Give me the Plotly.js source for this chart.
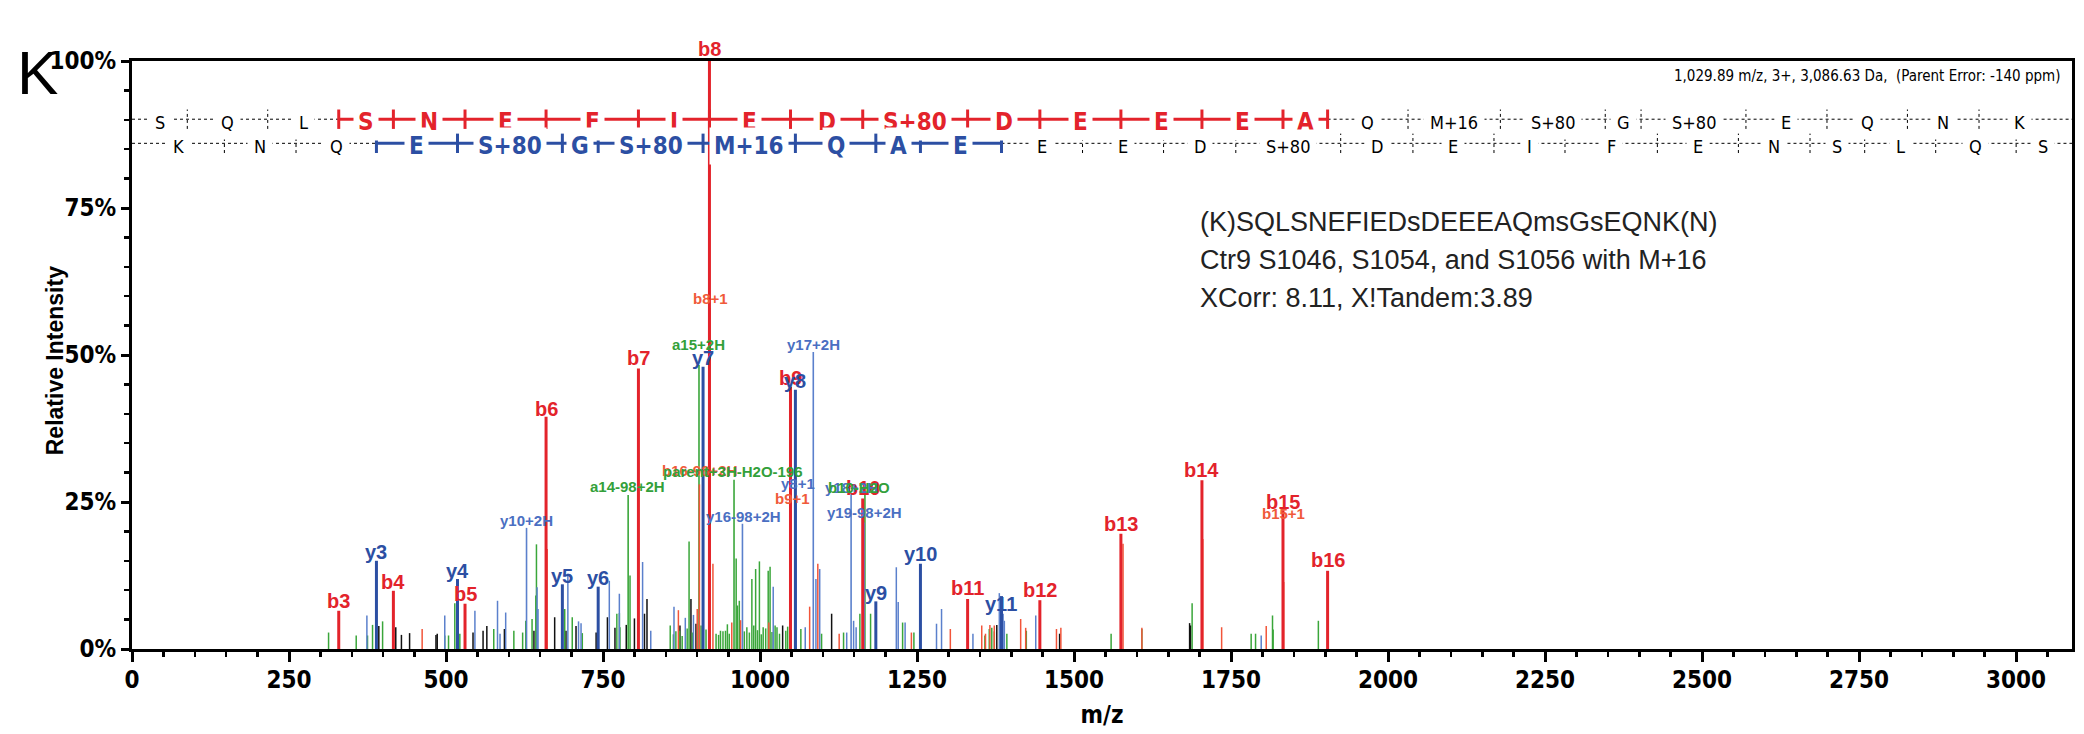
<!DOCTYPE html>
<html><head><meta charset="utf-8">
<script src="https://cdn.plot.ly/plotly-3.0.1.min.js"></script>
<style>html,body{margin:0;padding:0;background:#fff}#chart{width:2084px;height:734px}</style>
</head><body><div id="chart"></div>
<script>
// ---------------- DATA ----------------
// labelled b ions (thick red)
const bMainMz  = [329.18, 416.21, 530.26, 659.30, 806.37, 919.45, 1048.50, 1163.52, 1330.52, 1445.55, 1574.59, 1703.63, 1832.68, 1903.71];
const bMainInt = [6.5, 9.9, 7.7, 39.5, 47.7, 100, 44.6, 25.6, 8.5, 8.3, 19.6, 28.7, 23.6, 13.3];
const bMainLab = ['b3','b4','b5','b6','b7','b8','b9','b10','b11','b12','b13','b14','b15','b16'];
const bMainLabY = [8.2, 11.4, 9.4, 40.9, 49.5, 102.1, 46.1, 27.3, 10.4, 10.0, 21.3, 30.5, 25.0, 15.1];
// labelled y ions (thick blue)
const yMainMz  = [389.21, 518.26, 685.26, 742.28, 909.28, 1056.31, 1184.37, 1255.41, 1384.45];
const yMainInt = [15.0, 11.9, 11.0, 10.6, 48.0, 44.1, 8.1, 14.5, 9.0];
const yMainLab = ['y3','y4','y5','y6','y7','y8','y9','y10','y11'];
const yMainLabY = [16.5, 13.3, 12.4, 12.1, 49.5, 45.6, 9.5, 16.2, 7.7];
// other labelled ions (thin)
const minorLab  = ['y10+2H','a14-98+2H','a15+2H','b16-98+2H','b8+1','parent+3H-H2O-196','y16-98+2H','b9+1','y8+1','y17+2H','y18+2H','b10-H2O','y19-98+2H','b15+1'];
const minorType = ['y','a','a','b','b','a','y','b','y','y','y','a','y','b'];
const minorMz   = [628.2, 790.0, 902.8, 903.4, 920.45, 958.6, 972.0, 1049.5, 1057.3, 1084.8, 1145.0, 1167.0, 1165.9, 1833.7];
const minorInt  = [20.6, 26.2, 48.3, 28.0, 58.0, 28.8, 21.3, 23.5, 26.0, 50.5, 26.4, 27.5, 21.5, 11.4];
const minorLabX = [628.2, 789.5, 902.8, 904.0, 920.5, 957.0, 973.0, 1051.0, 1060.0, 1085.5, 1145.0, 1157.0, 1166.0, 1833.7];
const minorLabY = [21.9, 27.6, 51.8, 30.3, 59.6, 30.2, 22.6, 25.6, 28.1, 51.8, 27.4, 27.4, 23.2, 23.1];
// unlabelled peaks
const redThinMz  = [462, 661, 870, 900, 925, 955, 969, 1014, 1079, 1092, 1126, 1241, 1303, 1353, 1359, 1366, 1373, 1415, 1423, 1472, 1479, 1578, 1608, 1705, 1735, 1806];
const redThinInt = [3.4, 17.0, 6.6, 6.8, 14.5, 4.5, 4.9, 4.5, 7.2, 14.5, 2.6, 2.8, 3.4, 4.0, 2.6, 4.1, 4.0, 5.1, 3.6, 3.4, 3.6, 17.9, 3.6, 18.7, 3.7, 3.9];
const blueThinMz  = [374, 498, 546, 582, 586, 595, 645, 646.5, 694, 711, 715, 760, 776, 813, 826, 863, 881, 894, 1021, 1072, 1089, 1095, 1138, 1149, 1153, 1217, 1220, 1231, 1281, 1289, 1339, 1381, 1387, 1389, 1439, 1798];
const blueThinInt = [5.7, 5.7, 6.5, 8.2, 2.6, 6.2, 10.5, 6.8, 12.8, 4.7, 4.4, 11.6, 9.4, 14.8, 3.1, 7.2, 5.3, 5.8, 10.6, 3.7, 11.9, 13.6, 2.8, 4.8, 3.7, 13.9, 8.0, 4.5, 4.3, 6.8, 2.6, 9.5, 6.0, 4.8, 5.7, 2.3];
const greenThinMz  = [313, 357, 375, 383, 399, 498, 504, 514, 522, 576, 608, 622, 627, 637, 643, 644, 689, 701, 717, 772, 776, 777, 793, 857, 862, 866, 872, 876, 884, 887, 892, 906, 914, 930, 934, 937, 941, 945, 948, 951, 962, 964, 967, 975, 979, 983, 987, 990, 993, 996, 999, 1002, 1005, 1009, 1013, 1016, 1019, 1024, 1027, 1031, 1041, 1044, 1065, 1098, 1133, 1159, 1176, 1227, 1245, 1255, 1358, 1365, 1369, 1373, 1393, 1424, 1559, 1608, 1688, 1782, 1789, 1816, 1817, 1889];
const greenThinInt = [2.8, 2.3, 2.3, 4.1, 4.7, 2.3, 2.3, 7.8, 2.6, 3.4, 3.1, 2.8, 4.8, 5.1, 9.1, 17.8, 6.8, 5.4, 2.7, 6.0, 6.1, 3.7, 12.5, 4.0, 2.5, 3.0, 3.1, 2.2, 3.5, 18.3, 2.8, 4.0, 3.3, 2.6, 2.4, 3.1, 3.0, 3.1, 4.2, 2.6, 15.4, 7.4, 8.2, 3.0, 3.7, 2.8, 11.9, 4.0, 13.6, 3.2, 14.9, 2.5, 3.7, 3.5, 13.3, 14.0, 2.9, 4.0, 3.7, 2.6, 3.1, 3.8, 3.4, 2.6, 2.8, 6.0, 6.0, 4.5, 2.8, 11.9, 2.3, 3.4, 3.6, 3.0, 2.6, 3.1, 2.6, 3.4, 7.8, 2.6, 2.6, 5.7, 3.3, 4.8];
const blackThinMz  = [393, 420, 429, 442, 484, 486, 543, 559, 565, 593, 640, 673, 691, 707, 739, 757, 769, 787, 800, 816, 820, 872.5, 890, 898, 1036, 1114, 1377, 1477, 1684, 1685.5];
const blackThinInt = [3.9, 3.7, 2.4, 2.7, 2.4, 2.6, 2.8, 3.1, 3.9, 3.4, 3.1, 5.4, 3.1, 3.9, 2.8, 5.4, 3.6, 4.1, 5.2, 6.0, 8.5, 4.0, 8.5, 4.3, 4.0, 6.0, 4.1, 2.6, 4.4, 4.0];
// sequence coverage rows: theoretical b / y ladders (b1..b25, y1..y25)
const bLadder = [88.04, 216.10, 329.18, 416.21, 530.26, 659.30, 806.37, 919.45, 1048.50, 1163.52, 1330.52, 1445.55, 1574.59, 1703.63, 1832.68, 1903.71, 2031.77, 2178.81, 2345.80, 2402.83, 2569.82, 2698.87, 2826.93, 2940.97, 3069.06];
const bResidues = ['S','Q','L','S','N','E','F','I','E','D','S+80','D','E','E','E','A','Q','M+16','S+80','G','S+80','E','Q','N','K'];
const yLadder = [147.11, 261.16, 389.21, 518.26, 685.26, 742.28, 909.28, 1056.31, 1184.37, 1255.41, 1384.45, 1513.49, 1642.53, 1757.56, 1924.56, 2039.59, 2168.63, 2281.71, 2428.78, 2557.82, 2671.87, 2758.90, 2871.98, 3000.04, 3087.07];
const yResidues = ['K','N','Q','E','S+80','G','S+80','M+16','Q','A','E','E','E','D','S+80','D','E','I','F','E','N','S','L','Q','S'];
const bMatched = [3, 16];   // b3..b16 observed
const yMatched = [3, 11];   // y3..y11 observed
const xTickVals = [0, 250, 500, 750, 1000, 1250, 1500, 1750, 2000, 2250, 2500, 2750, 3000];
const infoLines = ['(K)SQLSNEFIEDsDEEEAQmsGsEQNK(N)', 'Ctr9 S1046, S1054, and S1056 with M+16', 'XCorr: 8.11, X!Tandem:3.89'];
const precursorText = '1,029.89 m/z, 3+, 3,086.63 Da,  (Parent Error: -140 ppm)';
const panelLetter = 'K';
const yTitle = 'Relative Intensity';

// ---------------- STYLE ----------------
const NARROW = '"Liberation Sans Narrow", "Arial Narrow", "DejaVu Sans Condensed", sans-serif';
const ARIAL = '"Liberation Sans", Arial, sans-serif';
const C = {bThick:'#e3232b', yThick:'#2c4fa3', rThin:'#f2553a', bThin:'#5b80cc', green:'#3aa63a', black:'#111111',
           labY:'#4a6fc2', labA:'#33a03a', labB:'#f05a3a'};
const X_MAX = 3089;
const PX_PER_PCT = 5.88;

function sticks(mz, inten, color, width) {
  const x = [], y = [];
  mz.forEach((m, i) => { x.push(m, m, null); y.push(0, inten[i], null); });
  return {type:'scatter', mode:'lines', x, y, line:{color, width}, hoverinfo:'skip', showlegend:false};
}
const minorColor = t => t === 'y' ? C.bThin : (t === 'a' ? C.green : C.rThin);
const minorLabColor = t => t === 'y' ? C.labY : (t === 'a' ? C.labA : C.labB);

const traces = [
  sticks(blackThinMz, blackThinInt, C.black, 1.5),
  sticks(greenThinMz, greenThinInt, C.green, 1.5),
  sticks(blueThinMz, blueThinInt, C.bThin, 1.5),
  sticks(redThinMz, redThinInt, C.rThin, 1.5),
];
['a','y','b'].forEach(t => {
  const idx = minorType.map((v,i)=>v===t?i:-1).filter(i=>i>=0);
  traces.push(sticks(idx.map(i=>minorMz[i]), idx.map(i=>minorInt[i]), minorColor(t), 1.6));
});
traces.push(sticks(yMainMz, yMainInt, C.yThick, 3));
traces.push(sticks(bMainMz, bMainInt, C.bThick, 3));

const shapes = [];
const annotations = [];

function buildRow(ladder, residues, matched, yRow, color) {
  const lo = matched[0] - 1, hi = matched[1] - 1; // ladder indices
  const dot = {color:'#000', width:1, dash:'dot'};
  const solid = {color, width:3};
  shapes.push({type:'line', xref:'x', yref:'y', x0:0, x1:ladder[lo], y0:yRow, y1:yRow, line:dot, layer:'above'});
  shapes.push({type:'line', xref:'x', yref:'y', x0:ladder[lo], x1:ladder[hi], y0:yRow, y1:yRow, line:solid, layer:'above'});
  shapes.push({type:'line', xref:'x', yref:'y', x0:ladder[hi], x1:X_MAX, y0:yRow, y1:yRow, line:dot, layer:'above'});
  for (let i = 0; i < ladder.length - 1; i++) {
    const on = i >= lo && i <= hi;
    shapes.push({type:'line', xref:'x', yref:'y', x0:ladder[i], x1:ladder[i], y0:yRow-1.65, y1:yRow+1.65,
                 line: on ? {color, width:3} : {color:'#000', width:1, dash:'dot'}, layer:'above'});
  }
  const bounds = [0].concat(ladder);
  residues.forEach((r, j) => {
    const on = (j - 1) >= lo && j <= hi;
    annotations.push({xref:'x', yref:'y', x:(bounds[j] + bounds[j+1]) / 2, y:yRow, text:r, showarrow:false,
      xanchor:'center', yanchor:'middle', yshift:-3, bgcolor:'#ffffff', borderpad: on ? 4 : 6,
      font: on ? {family:NARROW, size:24, weight:'bold', color} : {family:NARROW, size:18, color:'#000'}});
  });
}
buildRow(bLadder, bResidues, bMatched, 90.1, C.bThick);
buildRow(yLadder, yResidues, yMatched, 86.0, C.yThick);

function peakLabel(x, yPct, text, font) {
  const yy = Math.min(yPct, 100);
  annotations.push({xref:'x', yref:'y', x, y:yy, yshift:(yPct - yy) * PX_PER_PCT, text, showarrow:false,
    xanchor:'center', yanchor:'middle', font});
}
bMainLab.forEach((t,i) => peakLabel(bMainMz[i], bMainLabY[i], t, {family:ARIAL, size:20, weight:'bold', color:C.bThick}));
yMainLab.forEach((t,i) => peakLabel(yMainMz[i], yMainLabY[i], t, {family:ARIAL, size:20, weight:'bold', color:C.yThick}));
minorLab.forEach((t,i) => peakLabel(minorLabX[i], minorLabY[i], t, {family:ARIAL, size:15, weight:'bold', color:minorLabColor(minorType[i])}));

const infoY = [0.727, 0.662, 0.597];
infoLines.forEach((t,i) => annotations.push({xref:'paper', yref:'paper', x:0.5495, y:infoY[i], text:t, showarrow:false,
  xanchor:'left', yanchor:'middle', font:{family:ARIAL, size:27, color:'#222'}}));
annotations.push({xref:'paper', yref:'paper', x:0.9955, y:0.9745, text:precursorText, showarrow:false,
  xanchor:'right', yanchor:'middle', font:{family:NARROW, size:15, color:'#000'}});
annotations.push({xref:'paper', yref:'paper', x:-0.0485, y:0.981, text:panelLetter, showarrow:false,
  xanchor:'center', yanchor:'middle', font:{family:ARIAL, size:62, color:'#000'}});
// y-axis title placed as rotated text next to the tick labels
annotations.push({xref:'paper', yref:'paper', x:-0.0395, y:0.49, text:yTitle, showarrow:false, textangle:-90,
  xanchor:'center', yanchor:'middle', font:{family:ARIAL, size:23, weight:'bold', color:'#000'}});

const layout = {
  width:2084, height:734, margin:{l:132, r:12, t:61, b:85},
  paper_bgcolor:'#fff', plot_bgcolor:'#fff', showlegend:false,
  xaxis:{range:[0, X_MAX], tickmode:'array', tickvals:xTickVals, ticks:'outside', ticklen:10, tickwidth:3, tickcolor:'#000',
    showline:true, linewidth:3, linecolor:'#000', mirror:true, showgrid:false, zeroline:false,
    tickfont:{family:NARROW, size:24, weight:'bold', color:'#000'}, ticklabelstandoff:-3,
    minor:{dtick:50, tick0:0, ticks:'outside', ticklen:5, tickwidth:2.5, tickcolor:'#000', showgrid:false},
    title:{text:'m/z', font:{family:NARROW, size:24, weight:'bold', color:'#000'}, standoff:14}},
  yaxis:{range:[0, 100], dtick:25, tick0:0, ticksuffix:'%', ticks:'outside', ticklen:8, tickwidth:3, tickcolor:'#000',
    showline:true, linewidth:3, linecolor:'#000', mirror:true, showgrid:false, zeroline:false,
    tickfont:{family:NARROW, size:24, weight:'bold', color:'#000'},
    minor:{dtick:5, tick0:0, ticks:'outside', ticklen:5, tickwidth:2.5, tickcolor:'#000', showgrid:false},
    title:{text:''}},
  shapes, annotations
};
Plotly.newPlot('chart', traces, layout, {staticPlot:true, displayModeBar:false});
</script>
</body></html>
